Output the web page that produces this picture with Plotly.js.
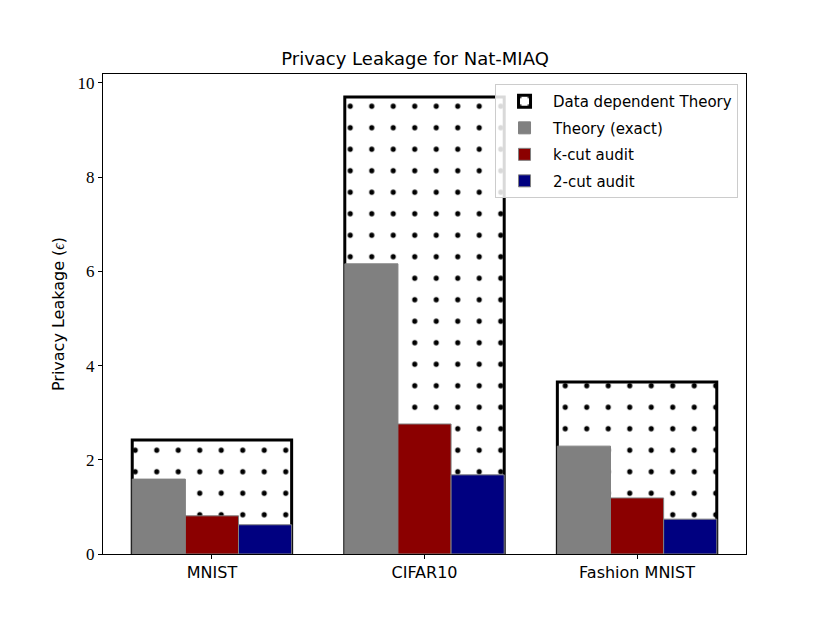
<!DOCTYPE html>
<html><head><meta charset="utf-8">
<script src="https://cdn.plot.ly/plotly-3.0.1.min.js"></script>
<style>html,body{margin:0;padding:0;background:#fff}</style>
</head><body>
<div id="chart" style="width:830px;height:623px"></div>
<script>
const categories = ["MNIST", "CIFAR10", "Fashion MNIST"];
const dataDependent = [2.42, 9.70, 3.65];
const theoryExact = [1.59, 6.16, 2.29];
const kCutAudit = [0.81, 2.76, 1.19];
const twoCutAudit = [0.62, 1.68, 0.74];
const yTicks = [0, 2, 4, 6, 8, 10];

const sans = "DejaVu Sans";
const serif = "Liberation Serif";

const traces = [
  {type: "bar", name: "Data dependent Theory", legendgroup: "a", x: categories, y: dataDependent,
   width: 0.75, offset: -0.375,
   marker: {color: "white", line: {color: "black", width: 3},
            pattern: {shape: ".", fgcolor: "black", fgopacity: 1, bgcolor: "white", size: 21.5, solidity: 0.045, fillmode: "overlay"}}},
  {type: "bar", name: "Theory (exact)", legendgroup: "b", x: categories, y: theoryExact,
   width: 0.25, offset: -0.375,
   marker: {color: "#808080", line: {color: "#808080", width: 1}}},
  {type: "bar", name: "k-cut audit", legendgroup: "c", x: categories, y: kCutAudit,
   width: 0.25, offset: -0.125,
   marker: {color: "#8b0000", line: {color: "#808080", width: 1}}},
  {type: "bar", name: "2-cut audit", legendgroup: "d", x: categories, y: twoCutAudit,
   width: 0.25, offset: 0.125,
   marker: {color: "#000080", line: {color: "#808080", width: 1}}}
];

const layout = {
  width: 830, height: 623,
  margin: {l: 103, r: 84, t: 74, b: 69},
  paper_bgcolor: "white", plot_bgcolor: "white",
  barmode: "overlay",
  bargap: 0,
  title: {text: "Privacy Leakage for Nat-MIAQ", font: {family: sans, size: 18, color: "black"},
          x: 0.5, xanchor: "center", y: 1, yref: "paper", yanchor: "bottom", pad: {b: 9}},
  font: {family: sans, color: "black"},
  xaxis: {type: "category", range: [-0.5125, 2.5125], showgrid: false, zeroline: false,
          showline: true, linecolor: "black", linewidth: 1, mirror: true,
          ticks: "outside", ticklen: 4, tickcolor: "black",
          tickfont: {family: sans, size: 16, color: "black"}},
  yaxis: {range: [0, 10.19], showgrid: false, zeroline: false,
          showline: true, linecolor: "black", linewidth: 1, mirror: true,
          ticks: "outside", ticklen: 4, tickcolor: "black",
          tickvals: yTicks, ticktext: yTicks.map(String),
          tickfont: {family: serif, size: 17, color: "black"},
          title: {text: "Privacy Leakage (<i style='font-family:Liberation Serif'>ϵ</i>)", font: {family: sans, size: 16, color: "black"}, standoff: 8}},
  legend: {x: 0.9876, y: 0.979, xanchor: "right", yanchor: "top",
           bgcolor: "rgba(255,255,255,0.85)", bordercolor: "#cccccc", borderwidth: 1,
           font: {family: sans, size: 15, color: "black"}, tracegroupgap: 4, traceorder: "grouped",
           itemwidth: 47},
  showlegend: true
};

Plotly.newPlot("chart", traces, layout, {displayModeBar: false, staticPlot: true});
</script>
</body></html>
